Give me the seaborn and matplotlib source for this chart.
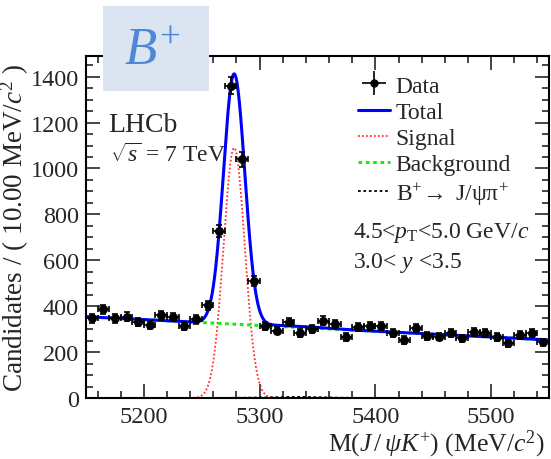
import numpy as np
import pandas as pd
import matplotlib
matplotlib.use("Agg")
import matplotlib.pyplot as plt
from matplotlib.patches import Rectangle
from matplotlib.ticker import MultipleLocator
import seaborn as sns

# ---- data ----
bin_centers = [5155, 5165, 5175, 5185, 5195, 5205, 5215, 5225, 5235, 5245,
               5255, 5265, 5275, 5285, 5295, 5305, 5315, 5325, 5335, 5345,
               5355, 5365, 5375, 5385, 5395, 5405, 5415, 5425, 5435, 5445,
               5455, 5465, 5475, 5485, 5495, 5505, 5515, 5525, 5535, 5545]
counts = [347, 386, 347, 354, 332, 317, 360, 353, 315, 343,
          404, 727, 1360, 1040, 510, 314, 294, 331, 284, 301,
          337, 321, 266, 311, 315, 315, 283, 253, 304, 270,
          267, 282, 260, 286, 282, 266, 238, 274, 282, 243]

# fit-model parameters
sig_mean = 5278.0
sig_sigma = 9.2
sig_peak = 1090.0
bkg_left = 354.0     # background level at 5150
bkg_right = 253.0    # background level at 5550
pi_mean = 5330.0
pi_sigma = 25.0
pi_peak = 5.0

x_range = [5150, 5550]
y_range = [0, 1490]
xticks = [5200, 5300, 5400, 5500]
yticks = [0, 200, 400, 600, 800, 1000, 1200, 1400]

legend_labels = ["Data", "Total", "Signal", "Background", r"B$^{+}\!\rightarrow$ J/$\mathrm{\psi\pi}^{+}$"]

SERIF = ["Liberation Serif", "DejaVu Serif"]

# ---- style ----
sns.set_style("ticks")
plt.rcParams["font.family"] = SERIF
plt.rcParams["font.serif"] = SERIF
plt.rcParams["mathtext.fontset"] = "custom"
plt.rcParams["mathtext.rm"] = "Liberation Serif"
plt.rcParams["mathtext.it"] = "Liberation Serif:italic"
plt.rcParams["mathtext.bf"] = "Liberation Serif:bold"

fig = plt.figure(figsize=(5.51, 4.60), dpi=100)
ax = fig.add_axes([86/551, 61/460, 463/551, 342/460])

# model curves
xm = np.linspace(x_range[0], x_range[1], 801)
sig = sig_peak * np.exp(-0.5 * ((xm - sig_mean) / sig_sigma) ** 2)
bkg = bkg_left + (bkg_right - bkg_left) * (xm - x_range[0]) / (x_range[1] - x_range[0])
pimis = pi_peak * np.exp(-0.5 * ((xm - pi_mean) / pi_sigma) ** 2)
tot = sig + bkg + pimis
curves = pd.DataFrame({"m": xm, "sig": sig, "bkg": bkg, "pi": pimis, "tot": tot})

sns.lineplot(data=curves, x="m", y="pi", ax=ax, color="black", lw=1.3,
             linestyle=(0, (1.5, 1.5)), label=legend_labels[4], zorder=2)
sns.lineplot(data=curves, x="m", y="sig", ax=ax, color="#ff3030", lw=1.3,
             linestyle=(0, (1, 1.2)), label=legend_labels[2], zorder=2)
sns.lineplot(data=curves, x="m", y="bkg", ax=ax, color="#10f010", lw=2.2,
             linestyle=(0, (1.2, 1.2)), label=legend_labels[3], zorder=3)
sns.lineplot(data=curves, x="m", y="tot", ax=ax, color="#0000ff", lw=2.2,
             label=legend_labels[1], zorder=4)

df = pd.DataFrame({"m": bin_centers, "n": counts})
ax.errorbar(df["m"], df["n"], xerr=5, yerr=np.sqrt(df["n"]), fmt="none",
            ecolor="black", elinewidth=1.2, capsize=2, capthick=1.2, zorder=5)
sns.scatterplot(data=df, x="m", y="n", ax=ax, color="black", s=42,
                edgecolor="black", linewidth=0, zorder=6, legend=False)

ax.set_xlim(x_range)
ax.set_ylim(y_range)
ax.set_xticks(xticks)
ax.set_yticks(yticks)
ax.xaxis.set_minor_locator(MultipleLocator(20))
ax.yaxis.set_minor_locator(MultipleLocator(50))
ax.tick_params(which="both", direction="in", top=True, right=True, width=1.2,
               labelsize=17.5, labelfontfamily="Liberation Serif")
ax.tick_params(which="major", length=10)
ax.tick_params(which="minor", length=5)
ax.tick_params(axis="x", pad=6)
ax.tick_params(axis="y", pad=5)
for s in ax.spines.values():
    s.set_linewidth(1.5)
    s.set_color("black")

ax.set_ylabel(r"Candidates / ( 10.00 MeV/$c^{2}$ )", fontsize=19.5)
ax.yaxis.set_label_coords((31 - 86) / 463, 0.5)
ax.set_xlabel(r"M($J\,/\,\psi K^{+}$) (MeV/$c^{2}$)", fontsize=18.5)
ax.xaxis.set_label_coords((545 - 86) / 463, (399 - 429) / 342)
ax.xaxis.label.set_horizontalalignment("right")

# legend
handles, labels = ax.get_legend_handles_labels()
hmap = dict(zip(labels, handles))
eb_h = ax.errorbar([], [], xerr=[], yerr=[], fmt="o", color="black", ms=5, lw=1.2)
order_h = [eb_h, hmap[legend_labels[1]], hmap[legend_labels[2]],
           hmap[legend_labels[3]], hmap[legend_labels[4]]]
ax.legend(order_h, legend_labels, loc="upper left",
          bbox_to_anchor=(358/551, (460-76)/460), bbox_transform=fig.transFigure,
          frameon=False, fontsize=17, handlelength=1.35, handletextpad=0.25,
          labelspacing=0.2, borderpad=0, borderaxespad=0)

# annotations
ax.text(108/551, (460-125)/460, "LHCb", transform=fig.transFigure, fontsize=20,
        va="center", ha="left")
ax.text(110/551, (460-155)/460, r"$\sqrt{s}$ = 7 TeV", transform=fig.transFigure,
        fontsize=17, va="center", ha="left")
ax.text(353/551, (460-233)/460, r"4.5<$p_{\mathrm{T}}$<5.0 GeV/$c$", transform=fig.transFigure,
        fontsize=17, va="center", ha="left")
ax.text(353/551, (460-263)/460, r"3.0< $y$ <3.5", transform=fig.transFigure,
        fontsize=17, va="center", ha="left")

# B+ box
fig.patches.append(Rectangle((103/551, (460-92)/460), 106/551, 85/460,
                             transform=fig.transFigure, facecolor="#dbe4f1",
                             edgecolor="none", zorder=10))
fig.text(152/551, (460-52)/460, r"$B^{+}$", fontsize=38, color="#4f88d6",
         ha="center", va="center", zorder=11)

fig.savefig("out.png", dpi=100)
